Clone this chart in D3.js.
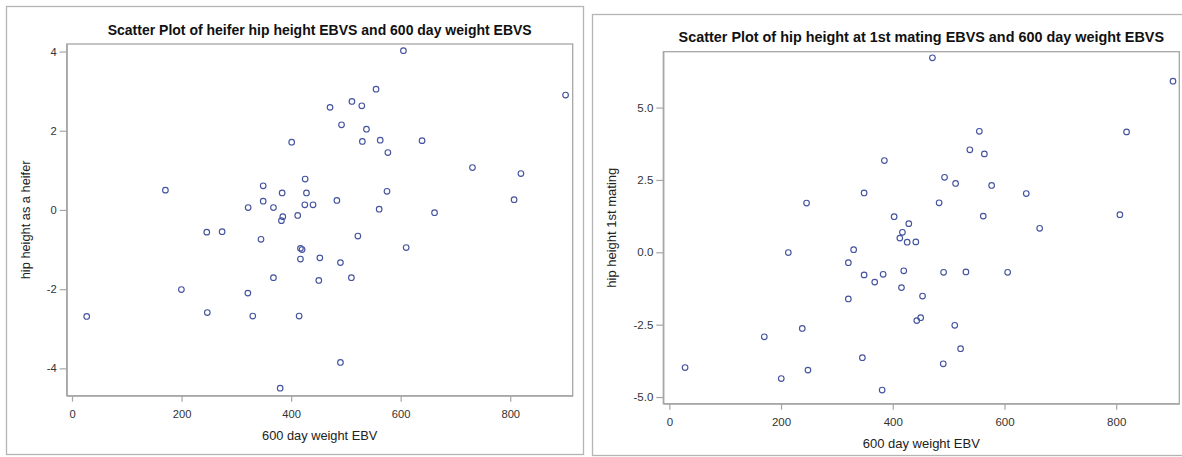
<!DOCTYPE html>
<html>
<head>
<meta charset="utf-8">
<script src="https://cdn.jsdelivr.net/npm/d3@7"></script>
<style>
  body { margin: 0; background: #fff; }
  svg { display: block; font-family: Arial, "Liberation Sans", sans-serif; }
</style>
</head>
<body>
<svg id="chart" width="1182" height="457"></svg>
<script>
// heifer hip height vs 600 day weight
const weightHeifer = [401, 170.5, 349, 349, 383.6, 321.5, 367.7, 384.8, 382.3, 412,
    605, 555, 901, 471, 511, 529, 492, 537.5, 530, 562.6,
    639, 576.6, 731, 819.5, 425.6, 428, 425, 440, 483.5, 575,
    807, 560.7, 661.8, 246, 274, 345, 417, 420, 417, 367.7,
    199.7, 321, 26.8, 247, 330, 414.6, 380, 452.4, 490, 521.8,
    610, 450.5, 510, 490];
const hipHeifer = [1.71, 0.50, 0.61, 0.22, 0.43, 0.06, 0.06, -0.17, -0.27, -0.14,
    4.02, 3.05, 2.90, 2.59, 2.74, 2.63, 2.15, 2.04, 1.73, 1.76,
    1.75, 1.45, 1.07, 0.92, 0.78, 0.43, 0.13, 0.13, 0.24, 0.47,
    0.26, 0.02, -0.07, -0.56, -0.55, -0.74, -0.97, -1.00, -1.24, -1.71,
    -2.01, -2.10, -2.69, -2.59, -2.68, -2.68, -4.50, -1.21, -1.33, -0.66,
    -0.95, -1.78, -1.71, -3.85];

// hip height at 1st mating vs 600 day weight
const weightMating = [385, 245.7, 348.7, 471, 901.7, 555, 818.6, 538, 564, 492.7,
    512.5, 577, 639, 483, 402.5, 428.7, 562, 806.6, 663, 417.3,
    412.6, 425.8, 441.3, 382.8, 419.7, 491, 531, 605.7, 415.6, 453.3,
    443, 450, 511, 521.4, 490.4, 381, 213, 330, 320.5, 348.7,
    367.7, 320.5, 238, 170, 28.2, 200.4, 248.2, 345.6];
const hipMating = [3.17, 1.70, 2.05, 6.72, 5.91, 4.18, 4.16, 3.54, 3.40, 2.59,
    2.38, 2.31, 2.03, 1.71, 1.23, 0.99, 1.25, 1.30, 0.83, 0.69,
    0.49, 0.35, 0.36, -0.76, -0.64, -0.69, -0.68, -0.69, -1.22, -1.51,
    -2.36, -2.26, -2.52, -3.33, -3.85, -4.76, -0.01, 0.09, -0.36, -0.78,
    -1.03, -1.61, -2.63, -2.92, -3.98, -4.36, -4.07, -3.64];

const weightTicks = [0, 200, 400, 600, 800];
const heiferTicks = [-4, -2, 0, 2, 4];
const matingTicks = [-5, -2.5, 0, 2.5, 5];

const svg = d3.select("#chart");
const markColor = "#44539e";

// SAS style labels use a plain hyphen for negatives
const hyphen = f => d => f(d).replace("\u2212", "-");

function drawPanel(p) {
    const g = svg.append("g");

    // outer box
    g.append("rect")
        .attr("x", p.box[0] + 0.5).attr("y", p.box[1] + 0.5)
        .attr("width", p.box[2]).attr("height", p.box[3])
        .attr("fill", "none").attr("stroke", "#b4b4b4").attr("stroke-width", 1.3);

    const x = d3.scaleLinear().domain(p.xDomain).range([p.left, p.right]);
    const y = d3.scaleLinear().domain(p.yDomain).range([p.bottom, p.top]);

    // plot frame
    g.append("rect")
        .attr("x", p.left).attr("y", p.top)
        .attr("width", p.right - p.left).attr("height", p.bottom - p.top)
        .attr("fill", "none").attr("stroke", "#a6a6a6").attr("stroke-width", 1.3);

    const xAxis = g.append("g")
        .attr("transform", `translate(0,${p.bottom})`)
        .call(d3.axisBottom(x).tickValues(weightTicks).tickSize(6).tickPadding(8).tickSizeOuter(0));
    const yAxis = g.append("g")
        .attr("transform", `translate(${p.left},0)`)
        .call(d3.axisLeft(y).tickValues(p.yTicks).tickFormat(hyphen(p.yFormat)).tickSize(7).tickPadding(3).tickSizeOuter(0));

    [xAxis, yAxis].forEach(a => {
        a.select(".domain").attr("stroke", "#a6a6a6").attr("stroke-width", 1.3);
        a.selectAll(".tick line").attr("stroke", "#a6a6a6").attr("stroke-width", 1.2);
        a.selectAll(".tick text")
            .attr("fill", "#333")
            .style("font-family", "Arial, 'Liberation Sans', sans-serif")
            .style("font-size", p.tickFont + "px");
    });

    g.append("text")
        .attr("x", (p.left + p.right) / 2).attr("y", p.titleY)
        .attr("text-anchor", "middle")
        .style("font-weight", "bold").style("font-size", p.titleFont + "px")
        .attr("fill", "#111")
        .text(p.title);

    g.append("text")
        .attr("x", (p.left + p.right) / 2).attr("y", p.xLabelY)
        .attr("text-anchor", "middle")
        .style("font-size", p.labelFont + "px")
        .attr("fill", "#222")
        .text("600 day weight EBV");

    g.append("text")
        .attr("transform", `translate(${p.yLabelX},${(p.top + p.bottom) / 2}) rotate(-90)`)
        .attr("text-anchor", "middle")
        .style("font-size", p.labelFont + "px")
        .attr("fill", "#222")
        .text(p.yLabel);

    g.selectAll("circle")
        .data(p.xs.map((v, i) => [v, p.ys[i]]))
        .join("circle")
        .attr("cx", d => x(d[0]))
        .attr("cy", d => y(d[1]))
        .attr("r", 2.8)
        .attr("fill", "none")
        .attr("stroke", markColor)
        .attr("stroke-width", 1.15);
}

drawPanel({
    box: [6, 6, 577, 448],
    left: 66.7, right: 572.7, top: 44, bottom: 395.7,
    xDomain: [-9.7, 914], yDomain: [-4.69, 4.19],
    yTicks: heiferTicks, yFormat: d3.format("d"),
    xs: weightHeifer, ys: hipHeifer,
    title: "Scatter Plot of heifer hip height EBVS and 600 day weight EBVS",
    titleY: 35, xLabelY: 440, yLabelX: 30,
    yLabel: "hip height as a heifer",
    tickFont: 11.2, labelFont: 12.8, titleFont: 14
});

drawPanel({
    box: [592, 14, 600, 441],
    left: 663.3, right: 1179.3, top: 51.7, bottom: 403.7,
    xDomain: [-10.8, 913], yDomain: [-5.23, 6.93],
    yTicks: matingTicks, yFormat: d3.format(".1f"),
    xs: weightMating, ys: hipMating,
    title: "Scatter Plot of hip height at 1st mating EBVS and 600 day weight EBVS",
    titleY: 42, xLabelY: 448, yLabelX: 616,
    yLabel: "hip height 1st mating",
    tickFont: 11.5, labelFont: 13, titleFont: 14.4
});
</script>
</body>
</html>
